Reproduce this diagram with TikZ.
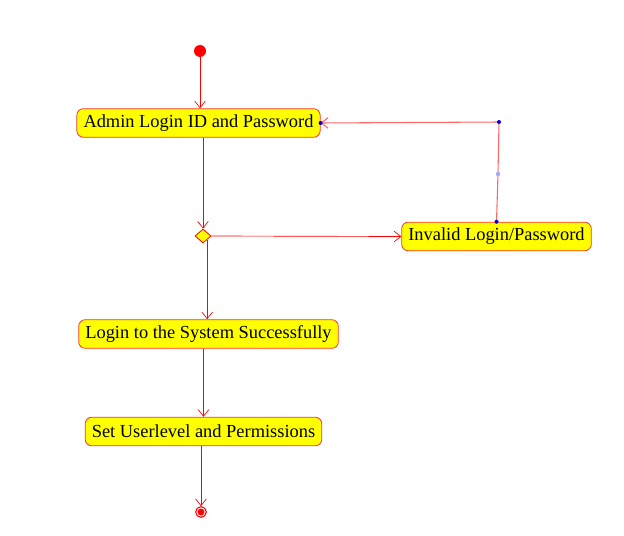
\documentclass[tikz,border=0pt]{standalone}
\usepackage{fontspec}
\setmainfont{Liberation Serif}
\usetikzlibrary{arrows.meta,shapes.geometric}

\definecolor{actred}{RGB}{255,0,0}
\definecolor{actfill}{RGB}{255,255,0}
\definecolor{dotblue}{RGB}{0,0,230}

\tikzset{
  actbox/.style={draw=actred!80, fill=actfill, rounded corners=5pt, line width=0.6pt,
    minimum height=21.5pt, inner xsep=5pt, inner ysep=0pt,
    font=\fontsize{13.8}{16}\selectfont},
  decision/.style={diamond, draw=actred, fill=actfill, line width=0.6pt,
    minimum width=12pt, minimum height=10.5pt, inner sep=0pt},
  startdot/.style={circle, fill=actred, minimum size=9pt, inner sep=0pt},
  enddot/.style={circle, draw=actred, line width=0.8pt, minimum size=8pt, inner sep=0pt,
    path picture={\fill[actred] (path picture bounding box.center) circle (2.6pt);}},
  flow/.style={draw=actred, line width=0.5pt, -{Straight Barb[length=5pt,width=8pt]}},
  backflow/.style={draw=actred!60, line width=0.8pt, -{Straight Barb[length=5pt,width=8pt]}},
}

\begin{document}
\begin{tikzpicture}[x=0.75pt,y=0.75pt,yscale=-1,xscale=1]
\useasboundingbox (0,0) rectangle (624,535);

% Activity nodes
\node[startdot] (start) at (200,51) {};
\node[actbox] (admin) at (198.5,123) {Admin Login ID and Password};
\node[decision] (check) at (203,236) {};
\node[actbox] (invalid) at (496.5,236.5) {Invalid Login/Password};
\node[actbox] (success) at (208.5,334) {Login to the System Successfully};
\node[actbox] (perm) at (203.5,431.5) {Set Userlevel and Permissions};
\node[enddot] (stop) at (201,512) {};

% Bend points of the loop back
\coordinate (corner) at (499,122);
\coordinate (bendmid) at (498,174);

% Transitions
\draw[flow] (start) -- (start |- admin.north);
\draw[flow] (admin.south -| check) -- (check.north);
\draw[flow] (check.east) -- (invalid.west);
\draw[flow] (check.south east) -- (check.south east |- success.north);
\draw[flow] (success.south -| perm) -- (perm.north);
\draw[flow] (perm.south -| stop) -- (stop.north);
\draw[backflow] (invalid.north) -- (bendmid) -- (corner) -- (admin.east);

% Handles
\fill[dotblue] (corner) circle (2);
\fill[dotblue] (invalid.north) circle (2);
\fill[dotblue] (admin.east) circle (2);
\fill[dotblue!35] (bendmid) circle (2.2);

\end{tikzpicture}
\end{document}
